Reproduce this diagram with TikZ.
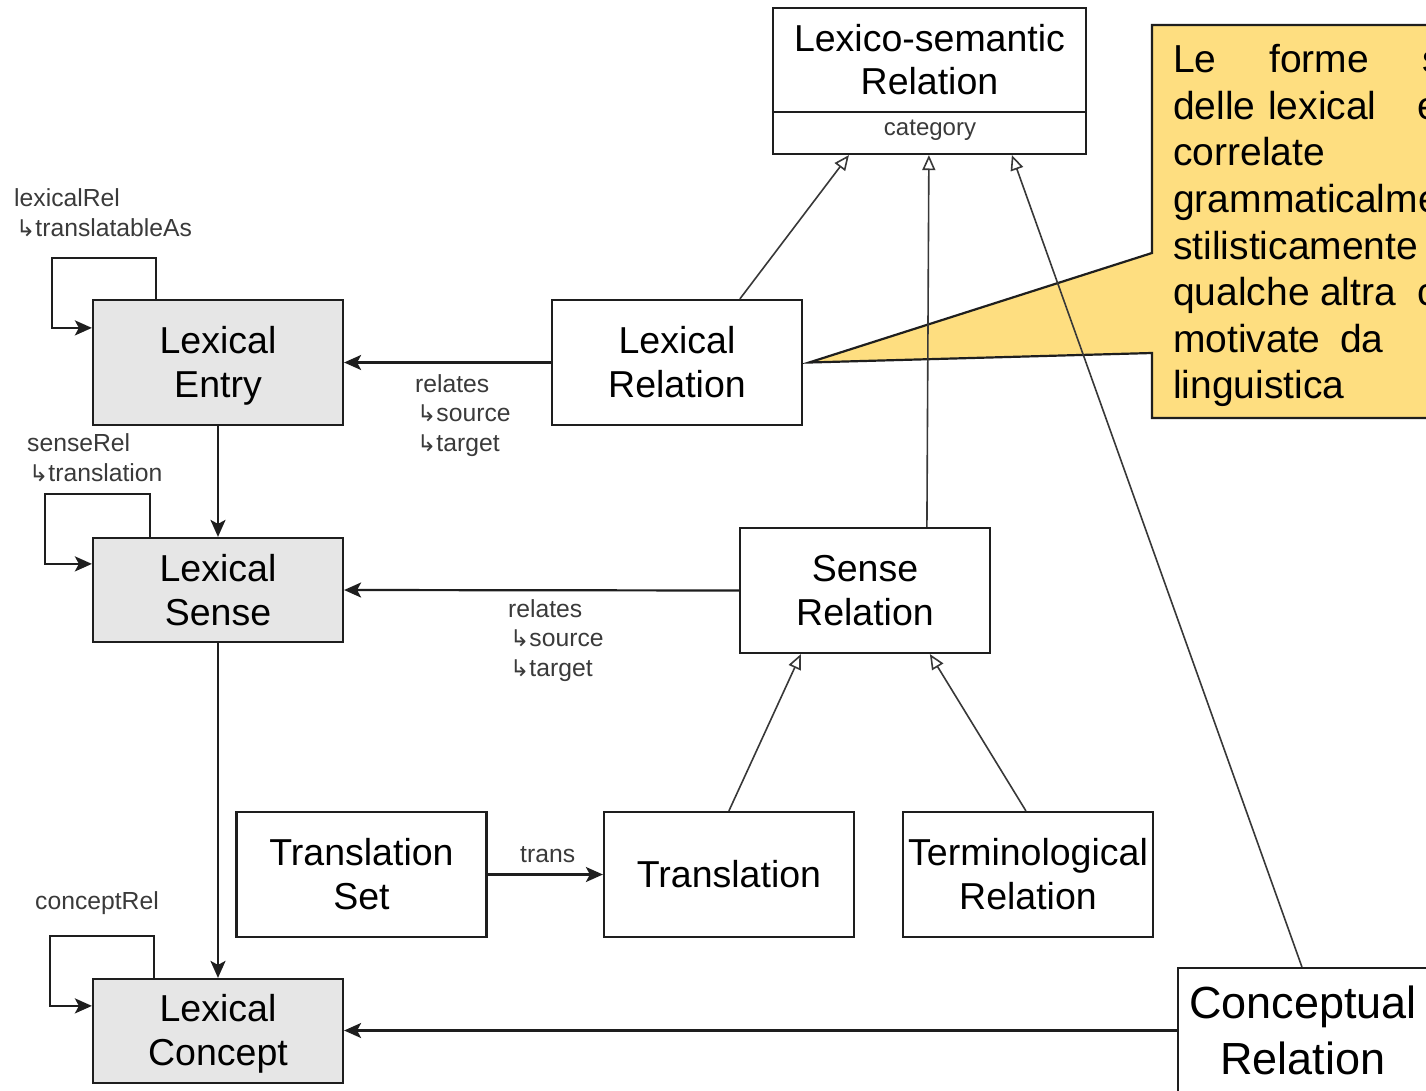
\documentclass[tikz,border=0pt]{standalone}
\usepackage{fontspec}
\setmainfont{Liberation Sans}
\newfontfamily\arrowfont{DejaVu Sans}
\usetikzlibrary{calc,arrows.meta}
\definecolor{boxgray}{HTML}{E6E6E6}
\definecolor{noteyellow}{HTML}{FEDE80}
\definecolor{labelgray}{HTML}{3A3A3A}
\definecolor{linedark}{HTML}{1E1E1E}
\newcommand{\hookarr}{{\arrowfont\fontsize{23}{23}\selectfont\symbol{"21B3}}}

\begin{document}
\begin{tikzpicture}[x=1pt,y=-1pt,
  box/.style={draw=linedark, line width=2.2pt, inner sep=0pt,
    minimum width=250pt, minimum height=125pt, align=center,
    font=\fontsize{37.5}{44}\selectfont},
  graybox/.style={box, fill=boxgray, minimum height=104pt},
  lbl/.style={anchor=base west, inner sep=0pt, text=labelgray,
    font=\fontsize{24.7}{29}\selectfont},
  assoc/.style={line width=2.2pt, draw=linedark,
    -{Stealth[length=17pt,width=15pt,inset=4pt]}},
  gen/.style={line width=1.6pt, draw=black!78,
    -{Triangle[open,length=15pt,width=13pt,line width=1.6pt]}},
  noteword/.style={anchor=base west, inner sep=0pt,
    font=\fontsize{39}{46}\selectfont}]

\useasboundingbox (0,0) rectangle (1426,1091);
\fill[white] (0,0) rectangle (1426,1091);

% ---- classes ----
\node[graybox, minimum height=125pt] (entry) at (218,362.5) {\rule{0pt}{33pt}Lexical\\Entry};
\node[graybox] (sense) at (218,590) {Lexical\\Sense};
\node[graybox] (concept) at (218,1031) {\rule{0pt}{33pt}Lexical\\Concept};
\node[box] (lexrel) at (677,362.5) {Lexical\\Relation};
\node[box] (senserel) at (865,590.5) {Sense\\Relation};
\node[box] (tset) at (361.5,874.5) {Translation\\Set};
\node[box] (trans) at (729,874.5) {Translation};
\node[box] (term) at (1028,874.5) {Terminological\\Relation};
\node[box, font=\fontsize{45}{56}\selectfont] (concrel) at (1303,1030.5) {Conceptual\\Relation};

% ---- abstract relation with attribute compartment ----
\node[draw=linedark, line width=2.2pt, inner sep=0pt, minimum width=313pt,
  minimum height=146pt] (lsr) at (929.5,81) {};
\node[align=center, inner sep=0pt, font=\fontsize{37.5}{43}\selectfont]
  (lsrname) at (929.5,60) {Lexico-semantic\\Relation};
\draw[line width=2.2pt, draw=linedark] (lsr.west |- 0,112) -- (lsr.east |- 0,112);
\node[anchor=base, inner sep=0pt, text=labelgray, font=\fontsize{24}{29}\selectfont]
  (lsrattr) at (930,136) {category};

% ---- note ----
\coordinate (notetip) at ($(lexrel.east)+(6,0)$);
\filldraw[fill=noteyellow, draw=linedark, line width=2.2pt]
  (1440,25) -- (1152,25) -- (1152,253) -- (notetip) -- (1152,353)
  -- (1152,418) -- (1440,418) -- cycle;
\node[noteword] (n1a) at (1173,73) {Le};
\node[noteword] (n1b) at (1269,73) {forme};
\node[noteword] (n1c) at (1422,73) {s};
\node[noteword] (n2a) at (1173,119.5) {delle};
\node[noteword] (n2b) at (1268,119.5) {lexical};
\node[noteword] (n2c) at (1417,119.5) {e};
\node[noteword] (n3a) at (1173,166) {correlate};
\node[noteword] (n4a) at (1173,212.5) {grammaticalme};
\node[noteword] (n5a) at (1173,259) {stilisticamente};
\node[noteword] (n6a) at (1173,305.5) {qualche};
\node[noteword] (n6b) at (1320,305.5) {altra};
\node[noteword] (n6c) at (1417,305.5) {c};
\node[noteword] (n7a) at (1173,352) {motivate};
\node[noteword] (n7b) at (1340,352) {da};
\node[noteword] (n8a) at (1173,398.5) {linguistica};

% ---- generalisations ----
\draw[gen] ($(lexrel.north west)+(189,0)$) -- ($(lsr.south west)+(77,0)$);
\draw[gen] ($(senserel.north west)+(188,0)$) -- ($(lsr.south west)+(157,0)$);
\draw[gen] ($(concrel.north west)+(125,0)$) -- ($(lsr.south west)+(240,0)$);
\draw[gen] ($(trans.north west)+(126,0)$) -- ($(senserel.south west)+(62,0)$);
\draw[gen] ($(term.north west)+(124,0)$) -- ($(senserel.south west)+(191,0)$);

% ---- associations ----
\draw[assoc] (lexrel.west) -- (entry.east);
\draw[assoc] (senserel.west) -- (sense.east);
\draw[assoc] (tset.east) -- (trans.west);
\draw[assoc] (concrel.west) -- (concept.east |- concrel.west);
\draw[assoc] (entry.south) -- (sense.north);
\draw[assoc] (sense.south) -- (concept.north);

% ---- self loops ----
\draw[assoc] ($(entry.north west)+(64,0)$) -- ++(0,-41)
  -| ($(entry.north west)+(-40,29)$) -- ($(entry.north west)+(0,29)$);
\draw[assoc] ($(sense.north west)+(58,0)$) -- ++(0,-43)
  -| ($(sense.north west)+(-47,27)$) -- ($(sense.north west)+(0,27)$);
\draw[assoc] ($(concept.north west)+(62,0)$) -- ++(0,-42)
  -| ($(concept.north west)+(-42,28)$) -- ($(concept.north west)+(0,28)$);

% ---- role labels ----
\node[lbl] (l1) at (14,207) {lexicalRel};
\node[lbl] (l2) at (16,237) {\hookarr translatableAs};
\node[lbl] (l3) at (27,451) {senseRel};
\node[lbl] (l4) at (29,481) {\hookarr translation};
\node[lbl] (l5) at (35,909) {conceptRel};
\node[lbl] (l6) at (415,392) {relates};
\node[lbl] (l7) at (417,421) {\hookarr source};
\node[lbl] (l8) at (417,451) {\hookarr target};
\node[lbl] (l9) at (508,617) {relates};
\node[lbl] (l10) at (510,646) {\hookarr source};
\node[lbl] (l11) at (510,676) {\hookarr target};
\node[lbl] (l12) at (520,862) {trans};
\end{tikzpicture}
\end{document}
